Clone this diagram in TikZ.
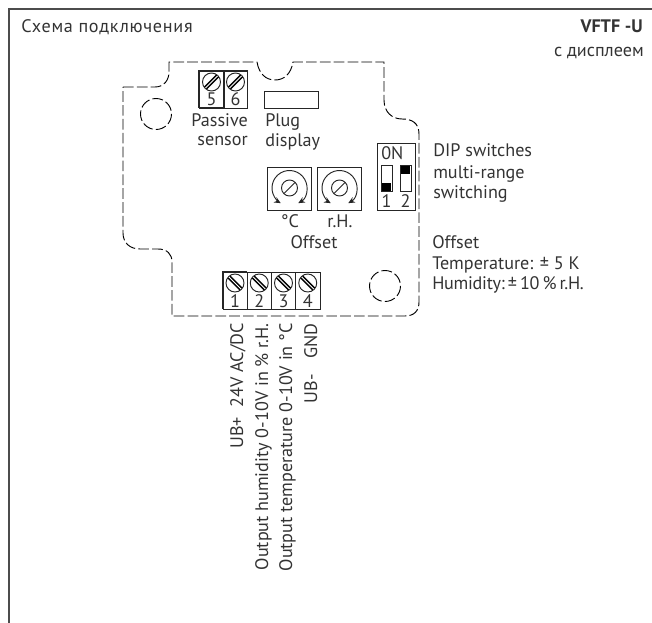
\documentclass[tikz,border=0pt]{standalone}
\usepackage{fontspec}
\usetikzlibrary{arrows.meta}
\setmainfont{PT Sans}
\tikzset{
	lbl/.style={inner sep=0pt,text=black!80,font=\fontsize{13.6}{15}\selectfont},
	housing/.style={line width=0.7pt,dash pattern=on 8pt off 2.4pt,black},
	part/.style={line width=0.7pt,black!85},
	knob/.style={part,{Stealth[length=5pt,width=4.5pt]}-{Stealth[length=5pt,width=4.5pt]}},
}
\begin{document}
\begin{tikzpicture}[x=0.75pt,y=-0.75pt]
\useasboundingbox (0,0) rectangle (652,623);
%%% Frame
\coordinate (frameA) at (652,9);
\coordinate (frameB) at (9,9);
\coordinate (frameC) at (9,623);
\draw[black!70,line width=0.8pt] (frameA) -- (frameB) -- (frameC);
%%% Headings
\node[lbl,anchor=base west] (title) at (21,33) {\addfontfeature{LetterSpace=4}Схема подключения};
\node[lbl,anchor=base east] (model) at (643,33) {\textbf{VFTF -U}};
\node[lbl,anchor=base east] (variant) at (644,57) {с дисплеем};
%%% Housing outline
\draw[housing] (123,87) -- (155,87) .. controls (164,87) and (169,80) .. (169,72) -- (169,62)
	-- (257,62) .. controls (259,74) and (266,80) .. (275,80) .. controls (284,80) and (291,74) .. (293,62)
	-- (384,62) -- (384,100) .. controls (384,112) and (392,119) .. (402,119)
	.. controls (412,119) and (419,123) .. (419,134) -- (419,302) .. controls (419,311) and (414,316) .. (405,316)
	-- (172,316) -- (172,262) .. controls (172,254) and (167,249) .. (158,249) -- (140,249)
	.. controls (130,249) and (123,243) .. (123,233) -- cycle;
\draw[housing] (156,114) circle (15.5);
\draw[housing] (385,286) circle (15.5);
%%% Terminals 5 and 6
\foreach \i in {5,6}
{
	\pgfmathtruncatemacro{\x}{199+24.5*(\i-5)};
	\draw[part] (\x,71) rectangle (\x+24.5,108);
	\draw[part] (\x+12.5,82) circle (9);
	\draw[black,line width=3pt] (\x+6.5,88) -- (\x+18.5,76);
	\draw[white,line width=0.6pt] (\x+6.5,88) -- (\x+18.5,76);
	\node[lbl,anchor=base] (sens\i) at (\x+12.5,106) {\i};
}
\draw[part,line width=1pt] (199,108) -- (199,71) -- (248,71);
\draw[part,line width=1pt] (224,71) -- (224,108) -- (199,108);
%%% Plug
\draw[part] (264,91) rectangle (318,108);
\node[lbl,anchor=base east] (passive) at (248,127) {Passive};
\node[lbl,anchor=base east] (sensor) at (248,146) {sensor};
\node[lbl,anchor=base west] (plug) at (265,127) {Plug};
\node[lbl,anchor=base west] (display) at (265,147) {display};
%%% Offset potentiometers
\foreach \x/\t in {267/{°C},317/{r.H.}}
{
	\draw[part] (\x,167) rectangle (\x+44.5,210);
	\draw[knob] (\x+22.5,188) ++(60:17.5) arc (60:-240:17.5);
	\draw[part] (\x+22.5,188) circle (8);
	\draw[part] (\x+17,193.5) -- (\x+28,182.5);
	\node[lbl,anchor=base] at (\x+23,228) {\t};
}
\node[lbl,anchor=base] (offset) at (314,249) {Offset};
%%% DIP switches
\draw[part] (377,143) rectangle (415,210);
\node[lbl,anchor=base west] (dipon) at (381,160) {0N};
\draw[part] (381,165) rectangle (392,191);
\draw[part] (400,165) rectangle (411,191);
\fill[black] (382,183) rectangle (391,191);
\fill[black] (401,166) rectangle (410,174);
\node[lbl,anchor=base] (dipa) at (386.5,208) {1};
\node[lbl,anchor=base] (dipb) at (405.5,208) {2};
%%% Side notes
\node[lbl,anchor=base west] (dip) at (433,157) {DIP switches};
\node[lbl,anchor=base west] (multi) at (433,179) {multi-range};
\node[lbl,anchor=base west] (switching) at (433,199) {switching};
\node[lbl,anchor=base west] (offnote) at (432,249) {Offset};
\node[lbl,anchor=base west] (tempnote) at (432,270) {Temperature: ± 5 K};
\node[lbl,anchor=base west] (humnote) at (432,290) {\addfontfeature{LetterSpace=-1.5}Humidity:\,±\,10\,\%\,r.H.};
%%% Terminals 1 to 4
\foreach \i in {1,...,4}
{
	\pgfmathsetmacro{\x}{223+24.25*(\i-1)};
	\draw[part] (\x,272) rectangle (\x+24.25,309);
	\draw[part] (\x+12,283) circle (9);
	\draw[black,line width=3pt] (\x+6,277) -- (\x+18,289);
	\draw[white,line width=0.6pt] (\x+6,277) -- (\x+18,289);
	\node[lbl,anchor=base] (term\i) at (\x+12,307) {\i};
}
\draw[part,line width=1pt] (223,309) -- (223,272) -- (247,272);
%%% Wire labels
\node[lbl,rotate=90,anchor=base east] (wirea) at (243,323) {UB+\ \ 24V AC/DC};
\node[lbl,rotate=90,anchor=base east] (wireb) at (268,323) {Output humidity 0-10V in \% r.H.};
\node[lbl,rotate=90,anchor=base east] (wirec) at (292,323) {Output temperature 0-10V in °C};
\node[lbl,rotate=90,anchor=base east] (wired) at (317,323) {UB-\hspace{12pt}GND};
\end{tikzpicture}
\end{document}
